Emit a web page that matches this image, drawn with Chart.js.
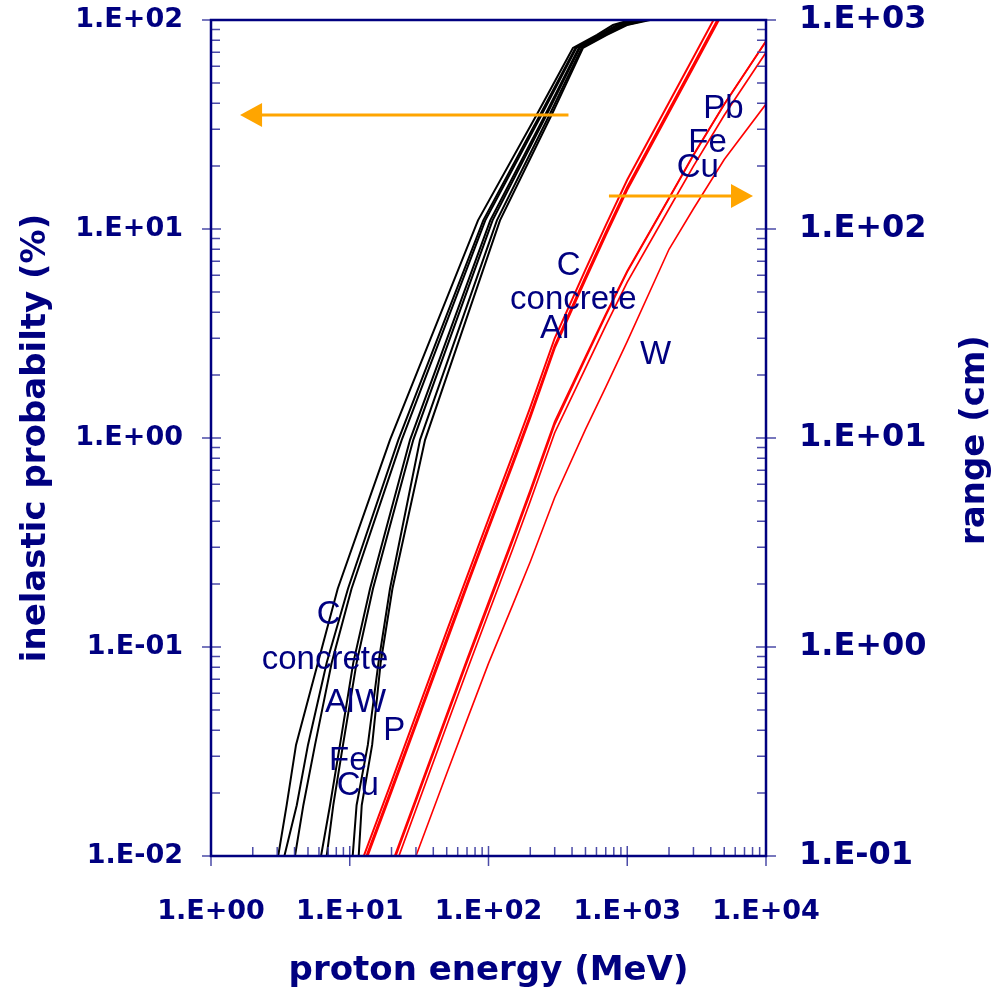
<!DOCTYPE html>
<html>
<head>
<meta charset="utf-8">
<title>inelastic probability and range of protons</title>
<script src="https://cdn.jsdelivr.net/npm/chart.js@4.4.1/dist/chart.umd.min.js"></script>
<style>
  html, body { margin: 0; padding: 0; background: #fff; }
  #wrap { width: 999px; height: 996px; }
</style>
</head>
<body>
<div id="wrap"><canvas id="chart" width="999" height="996"></canvas></div>
<script>
// axis decades
const energyTicks = [1, 10, 100, 1000, 10000];
const probTicks = [0.01, 0.1, 1, 10, 100];
const rangeTicks = [0.1, 1, 10, 100, 1000];

// inelastic probability (%) vs proton energy (MeV)
const probC        = [[3.05, 0.01], [3.51, 0.0175], [4.10, 0.034], [5.90, 0.084], [8.19, 0.19], [19.5, 0.98], [84.0, 11.0], [224, 35.5], [406, 73.5], [605, 84.8], [789, 94.6], [1047, 100], [10000, 100]];
const probConcrete = [[3.38, 0.01], [4.15, 0.0175], [5.00, 0.034], [6.82, 0.084], [9.71, 0.19], [22.4, 0.98], [91.7, 11.0], [237, 35.5], [423, 73.5], [630, 84.8], [844, 94.6], [1118, 100], [10000, 100]];
const probAl       = [[4.03, 0.01], [4.63, 0.0175], [5.62, 0.034], [7.41, 0.084], [10.3, 0.19], [23.7, 0.98], [94.8, 11.0], [243, 35.5], [429, 73.5], [639, 84.8], [865, 94.6], [1156, 100], [10000, 100]];
const probFe       = [[6.21, 0.01], [7.21, 0.0175], [8.50, 0.034], [10.6, 0.084], [14.0, 0.19], [27.2, 0.98], [103, 11.0], [258, 35.5], [447, 73.5], [666, 84.8], [917, 94.6], [1256, 100], [10000, 100]];
const probCu       = [[6.82, 0.01], [7.61, 0.0175], [8.94, 0.034], [11.2, 0.084], [14.7, 0.19], [28.7, 0.98], [107, 11.0], [264, 35.5], [454, 73.5], [677, 84.8], [932, 94.6], [1299, 100], [10000, 100]];
const probW        = [[10.5, 0.01], [11.2, 0.0175], [13.5, 0.034], [16.1, 0.084], [19.5, 0.19], [32.1, 0.98], [115, 11.0], [277, 35.5], [469, 73.5], [698, 84.8], [971, 94.6], [1388, 100], [10000, 100]];
const probPb       = [[11.6, 0.01], [12.2, 0.0175], [14.5, 0.034], [16.7, 0.084], [20.3, 0.19], [34.9, 0.98], [121, 11.0], [287, 35.5], [480, 73.5], [714, 84.8], [996, 94.6], [1459, 100], [10000, 100]];

// range (cm) vs proton energy (MeV)
const rangeEnergy   = [10, 20, 30, 50, 70, 100, 150, 200, 300, 500, 700, 1000, 2000, 3000, 5000, 10000];
const rangeC        = [0.066, 0.227, 0.472, 1.19, 2.17, 4.09, 8.34, 14.0, 30.0, 63.9, 104, 172, 403, 663, 1246, 2544];
const rangeConcrete = [0.061, 0.210, 0.436, 1.10, 2.01, 3.78, 7.71, 12.9, 27.7, 59.1, 96.2, 159, 372, 613, 1152, 2352];
const rangeAl       = [0.059, 0.203, 0.423, 1.06, 1.95, 3.67, 7.48, 12.5, 26.9, 57.3, 93.3, 154, 361, 594, 1116, 2280];
const rangeFe       = [0.0262, 0.091, 0.189, 0.476, 0.874, 1.64, 3.35, 5.64, 12.0, 24.5, 39.1, 63.0, 141, 227, 396, 793];
const rangePb       = [0.0254, 0.088, 0.183, 0.461, 0.846, 1.58, 3.24, 5.45, 11.6, 24.0, 38.5, 62.4, 140, 225, 394, 790];
const rangeCu       = [0.0232, 0.080, 0.167, 0.421, 0.772, 1.45, 2.96, 4.98, 10.6, 21.6, 34.5, 55.7, 125, 200, 350, 700];
const rangeW        = [0.0138, 0.048, 0.100, 0.248, 0.448, 0.835, 1.60, 2.56, 5.19, 11.0, 17.5, 29.0, 80, 125, 215, 396];

const NAVY = '#000080';
const TICK = '#4b4ba8';
const ORANGE = '#FFA500';
const BOLD = 'DejaVu Sans';

const pairs = list => list.map(([x, y]) => ({ x, y }));
const zip = (xs, ys) => xs.map((x, i) => ({ x, y: ys[i] }));

function probSet(label, data) {
    return { label, data: pairs(data), yAxisID: 'y', borderColor: '#000000', borderWidth: 2 };
}
function rangeSet(label, data, width) {
    return { label, data: zip(rangeEnergy, data), yAxisID: 'y1', borderColor: '#FF0000', borderWidth: width };
}

const datasets = [
    probSet('C', probC), probSet('concrete', probConcrete), probSet('Al', probAl),
    probSet('Fe', probFe), probSet('Cu', probCu), probSet('W', probW), probSet('Pb', probPb),
    rangeSet('C', rangeC, 2), rangeSet('concrete', rangeConcrete, 2), rangeSet('Al', rangeAl, 2),
    rangeSet('Fe', rangeFe, 1.7), rangeSet('Pb', rangePb, 1.7), rangeSet('Cu', rangeCu, 1.7),
    rangeSet('W', rangeW, 1.6)
];
datasets.forEach(d => Object.assign(d, { showLine: true, pointRadius: 0, fill: false, tension: 0 }));

// material labels, placed in data coordinates (energy, axis value)
const notes = [
    { text: 'C', e: 5.78, v: 0.1285, axis: 'y' },
    { text: 'concrete', e: 2.32, v: 0.0785, axis: 'y' },
    { text: 'Al', e: 6.63, v: 0.0487, axis: 'y' },
    { text: 'W', e: 10.9, v: 0.0487, axis: 'y' },
    { text: 'P', e: 17.45, v: 0.0359, axis: 'y' },
    { text: 'Fe', e: 7.09, v: 0.0258, axis: 'y' },
    { text: 'Cu', e: 8.05, v: 0.0196, axis: 'y' },
    { text: 'C', e: 310, v: 60.3, axis: 'y1' },
    { text: 'concrete', e: 143, v: 41.3, axis: 'y1' },
    { text: 'Al', e: 235, v: 30.0, axis: 'y1' },
    { text: 'W', e: 1236, v: 22.6, axis: 'y1' },
    { text: 'Pb', e: 3532, v: 338.6, axis: 'y1' },
    { text: 'Fe', e: 2754, v: 234.4, axis: 'y1' },
    { text: 'Cu', e: 2272, v: 178, axis: 'y1' }
];
// arrows pointing to the axis each family belongs to
const arrows = [
    { from: 377, to: 1.62, v: 35.1, axis: 'y' },
    { from: 738, to: 8060, v: 144, axis: 'y1' }
];

function sci(v) {
    const p = Math.round(Math.log10(v));
    return '1.E' + (p < 0 ? '-' : '+') + String(Math.abs(p)).padStart(2, '0');
}

function subTicks(min, max) {
    const out = [];
    for (let d = min; d < max; d *= 10) {
        for (let m = 2; m <= 9; m++) out.push(d * m);
    }
    return out;
}

function logAxis(position, min, max, decades, fontSize, pad, fixSize) {
    return {
        type: 'logarithmic',
        position,
        min, max,
        grid: { display: false, drawTicks: false },
        border: { display: false },
        afterBuildTicks: axis => { axis.ticks = decades.map(v => ({ value: v })); },
        afterFit: axis => {
            fixSize(axis);
            // the frame is placed by hand, so drop label overhang padding
            axis.paddingTop = axis.paddingBottom = axis.paddingLeft = axis.paddingRight = 0;
        },
        ticks: {
            autoSkip: false,
            maxRotation: 0,
            padding: pad,
            color: NAVY,
            font: { family: BOLD, size: fontSize, weight: 'bold' },
            callback: v => sci(v)
        }
    };
}

const frame = {
    id: 'frame',
    afterDatasetsDraw(chart) {
        const { ctx, chartArea: a, scales } = chart;
        ctx.save();

        // tick marks: decades cross the axis, sub-decades point inward
        ctx.strokeStyle = TICK;
        ctx.lineWidth = 1.5;
        ctx.beginPath();
        energyTicks.forEach(v => {
            const x = scales.x.getPixelForValue(v);
            ctx.moveTo(x, a.bottom - 10); ctx.lineTo(x, a.bottom + 10);
        });
        subTicks(1, 10000).forEach(v => {
            const x = scales.x.getPixelForValue(v);
            ctx.moveTo(x, a.bottom - 9); ctx.lineTo(x, a.bottom);
        });
        probTicks.forEach(v => {
            const y = scales.y.getPixelForValue(v);
            ctx.moveTo(a.left - 9, y); ctx.lineTo(a.left + 10, y);
        });
        subTicks(0.01, 100).forEach(v => {
            const y = scales.y.getPixelForValue(v);
            ctx.moveTo(a.left, y); ctx.lineTo(a.left + 9, y);
        });
        rangeTicks.forEach(v => {
            const y = scales.y1.getPixelForValue(v);
            ctx.moveTo(a.right - 10, y); ctx.lineTo(a.right + 10, y);
        });
        subTicks(0.1, 1000).forEach(v => {
            const y = scales.y1.getPixelForValue(v);
            ctx.moveTo(a.right - 9, y); ctx.lineTo(a.right, y);
        });
        ctx.stroke();

        // plot frame
        ctx.strokeStyle = NAVY;
        ctx.lineWidth = 2.5;
        ctx.strokeRect(a.left, a.top, a.right - a.left, a.bottom - a.top);

        // orange arrows
        ctx.strokeStyle = ORANGE;
        ctx.fillStyle = ORANGE;
        ctx.lineWidth = 3;
        arrows.forEach(ar => {
            const y = scales[ar.axis].getPixelForValue(ar.v);
            const x0 = scales.x.getPixelForValue(ar.from);
            const x1 = scales.x.getPixelForValue(ar.to);
            const dir = Math.sign(x1 - x0);
            ctx.beginPath();
            ctx.moveTo(x0, y); ctx.lineTo(x1 - dir * 20, y);
            ctx.stroke();
            ctx.beginPath();
            ctx.moveTo(x1, y);
            ctx.lineTo(x1 - dir * 22, y - 12);
            ctx.lineTo(x1 - dir * 22, y + 12);
            ctx.closePath();
            ctx.fill();
        });

        // material labels
        ctx.fillStyle = NAVY;
        ctx.font = '33px "Liberation Sans", Arial, sans-serif';
        ctx.textAlign = 'left';
        ctx.textBaseline = 'alphabetic';
        notes.forEach(n => {
            ctx.fillText(n.text, scales.x.getPixelForValue(n.e), scales[n.axis].getPixelForValue(n.v));
        });

        // right axis title, reading bottom to top like the left one
        ctx.font = 'bold 34px "' + BOLD + '"';
        ctx.textAlign = 'center';
        ctx.textBaseline = 'middle';
        ctx.translate(975, (a.top + a.bottom) / 2 + 2);
        ctx.rotate(-Math.PI / 2);
        ctx.fillText('range (cm)', 0, 0);
        ctx.restore();
    }
};

const xAxis = logAxis('bottom', 1, 10000, energyTicks, 27, 40, s => { s.height = 140; });
xAxis.title = {
    display: true,
    text: 'proton energy (MeV)',
    color: NAVY,
    font: { family: BOLD, size: 34, weight: 'bold' },
    padding: { top: 0, bottom: 4 }
};
const yAxis = logAxis('left', 0.01, 100, probTicks, 27, 28, s => { s.width = 211; });
yAxis.title = {
    display: true,
    text: 'inelastic probabilty (%)',
    color: NAVY,
    font: { family: BOLD, size: 34, weight: 'bold' },
    padding: { top: 16, bottom: 0 }
};
const y1Axis = logAxis('right', 0.1, 1000, rangeTicks, 32, 33, s => { s.width = 233; });

new Chart(document.getElementById('chart').getContext('2d'), {
    type: 'scatter',
    data: { datasets },
    options: {
        responsive: false,
        animation: false,
        layout: { padding: { top: 20, left: 0, right: 0, bottom: 0 } },
        plugins: {
            legend: { display: false },
            tooltip: { enabled: false }
        },
        scales: { x: xAxis, y: yAxis, y1: y1Axis }
    },
    plugins: [frame]
});
</script>
</body>
</html>
